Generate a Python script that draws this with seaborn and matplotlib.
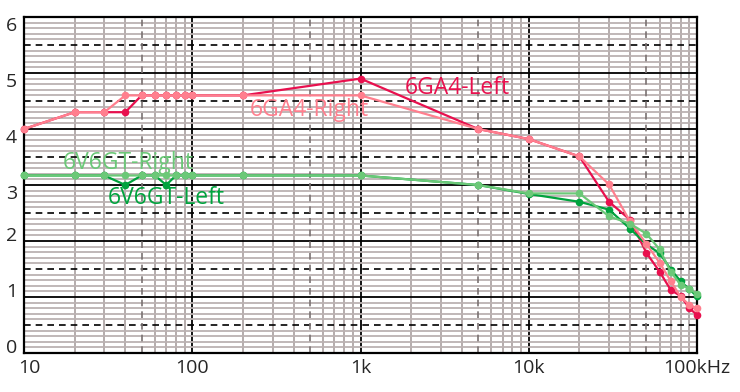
import numpy as np
import pandas as pd
import seaborn as sns
import matplotlib.pyplot as plt
import matplotlib.transforms as mtransforms
from matplotlib.ticker import FixedLocator, NullFormatter

# frequency points (Hz) and measured values per channel
freq = [10, 20, 30, 40, 50, 60, 70, 80, 90, 100, 200, 1000, 5000, 10000,
        20000, 30000, 40000, 50000, 60000, 70000, 80000, 90000, 100000]
ga4_left = [4.0, 4.3, 4.3, 4.3, 4.6, 4.6, 4.6, 4.6, 4.6, 4.6, 4.6, 4.9, 4.0, 3.82,
            3.51, 2.7, 2.38, 1.79, 1.45, 1.12, 1.02, 0.8, 0.68]
ga4_right = [4.0, 4.3, 4.3, 4.6, 4.6, 4.6, 4.6, 4.6, 4.6, 4.6, 4.6, 4.6, 4.0, 3.82,
             3.51, 3.01, 2.35, 1.95, 1.61, 1.28, 1.0, 0.86, 0.8]
v6_left = [3.17, 3.17, 3.17, 3.0, 3.17, 3.17, 3.0, 3.17, 3.17, 3.17, 3.17, 3.17, 3.0, 2.84,
           2.70, 2.56, 2.22, 1.94, 1.78, 1.49, 1.28, 1.14, 1.01]
v6_right = [3.17, 3.17, 3.17, 3.17, 3.17, 3.17, 3.17, 3.17, 3.17, 3.17, 3.17, 3.17, 3.0, 2.85,
            2.85, 2.44, 2.31, 2.13, 1.85, 1.44, 1.22, 1.15, 1.05]

series_names = ['6GA4-Left', '6V6GT-Left', '6GA4-Right', '6V6GT-Right']
colors = {'6GA4-Left': '#E8104E', '6GA4-Right': '#FF7F8E',
          '6V6GT-Left': '#00A33E', '6V6GT-Right': '#6CC878'}
xtick_vals = [10, 100, 1000, 10000, 100000]
xtick_labels = ['10', '100', '1k', '10k', '100kHz']

df = pd.DataFrame({
    'freq': freq * 4,
    'value': ga4_left + v6_left + ga4_right + v6_right,
    'series': sum([[n] * len(freq) for n in series_names], []),
})

sns.set_style('white')
plt.rcParams['font.family'] = ['Open Sans', 'DejaVu Sans']

fig = plt.figure(figsize=(7.4, 3.92), dpi=100)
ax = fig.add_axes([24 / 740, 1 - 353 / 392, (697 - 24) / 740, (353 - 17) / 392])

ax.set_xscale('log')
ax.set_xlim(10, 100000)
ax.set_ylim(0, 6)

# grid: 0.1 gray, 0.5 dashed, 1 solid; log minors gray, 5x dashed
yminor = [round(v / 10, 1) for v in range(61) if v % 5 != 0]
ax.yaxis.set_minor_locator(FixedLocator(yminor))
xminor = [d * m for d in [10, 100, 1000, 10000] for m in (2, 3, 4, 6, 7, 8, 9)]
ax.xaxis.set_minor_locator(FixedLocator(xminor))
ax.xaxis.set_minor_formatter(NullFormatter())
ax.grid(which='minor', axis='y', color='#BBB2B2', lw=1.3, zorder=0)
ax.grid(which='minor', axis='x', color='#A89E9E', lw=1.2, zorder=0)
ax.grid(which='major', color='black', lw=1.3, zorder=0.5)
for y in [0.5, 1.5, 2.5, 3.5, 4.5, 5.5]:
    ax.axhline(y, color='black', lw=1.2, ls=(0, (4, 3)), zorder=0.6)
for x in [50, 500, 5000, 50000]:
    ax.axvline(x, color='#7A7272', lw=1.2, ls=(0, (4, 3)), zorder=0.6)

sns.lineplot(data=df, x='freq', y='value', hue='series', hue_order=series_names,
             palette=colors, marker='o', markersize=5.5, markeredgewidth=0,
             linewidth=1.6, estimator=None, sort=False, legend=False, ax=ax,
             clip_on=False, zorder=3)

ax.set_xticks(xtick_vals)
ax.set_xticklabels(xtick_labels)
ax.set_yticks(range(7))
ax.tick_params(which='both', length=0, labelsize=14, pad=4)
ax.tick_params(axis='y', pad=5)
ax.set_xlabel('')
ax.set_ylabel('')
for s in ax.spines.values():
    s.set_color('black')
    s.set_linewidth(1.6)

# y labels sit just above (0-2) or just below (3-6) their grid line
for lab in ax.get_yticklabels():
    v = lab.get_position()[1]
    lab.set_verticalalignment('baseline' if v < 2.5 else 'top')
first = ax.get_xticklabels()[0]
first.set_transform(first.get_transform() + mtransforms.ScaledTranslation(5 / 100, 0, fig.dpi_scale_trans))

ax.text(1840, 4.73, '6GA4-Left', color=colors['6GA4-Left'], fontsize=16.5, va='center')
ax.text(220, 4.34, '6GA4-Right', color=colors['6GA4-Right'], fontsize=16.5, va='center')
ax.text(17, 3.39, '6V6GT-Right', color=colors['6V6GT-Right'], fontsize=16.5, va='center')
ax.text(31.6, 2.77, '6V6GT-Left', color=colors['6V6GT-Left'], fontsize=16.5, va='center')

fig.savefig('out.png', dpi=100)
